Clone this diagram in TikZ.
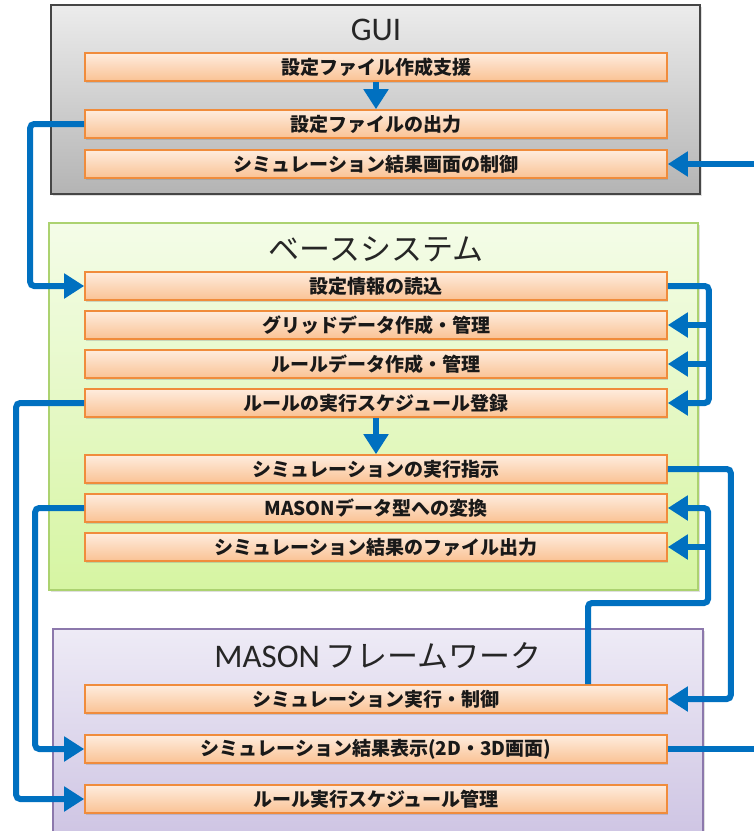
\documentclass[tikz,border=0pt]{standalone}
\usepackage{fontspec}
\setmainfont{Carlito}
\newfontfamily\jpfont{Noto Sans CJK JP}
\usetikzlibrary{arrows.meta, positioning, calc, shadows}
\definecolor{flowblue}{RGB}{0,112,192}
\definecolor{bartop}{RGB}{254,236,222}
\definecolor{barbot}{RGB}{250,194,148}
\definecolor{barline}{RGB}{240,140,60}
\definecolor{guitop}{RGB}{236,236,236}
\definecolor{guibot}{RGB}{180,180,180}
\definecolor{guiline}{RGB}{70,70,70}
\definecolor{basetop}{RGB}{244,252,232}
\definecolor{basebot}{RGB}{214,245,162}
\definecolor{baseline}{RGB}{172,210,112}
\definecolor{masontop}{RGB}{238,235,246}
\definecolor{masonbot}{RGB}{204,194,226}
\definecolor{masonline}{RGB}{140,120,172}

\begin{document}
\begin{tikzpicture}[x=0.5pt, y=-0.5pt,
  bar/.style={draw=barline, line width=0.8pt, top color=bartop, bottom color=barbot,
    minimum width=291pt, minimum height=14pt, inner sep=0pt, text=black!90,
    font=\jpfont\bfseries\fontsize{9.5}{10}\selectfont,
    drop shadow={shadow xshift=0.6pt, shadow yshift=-0.8pt, opacity=0.3}},
  panel/.style={line width=0.6pt, drop shadow={shadow xshift=0.8pt, shadow yshift=-0.8pt, opacity=0.25}},
  title/.style={text=black!85, font=\fontsize{16.5}{18}\selectfont},
  flow/.style={flowblue, line width=3pt, rounded corners=2pt, -{Triangle[length=10pt, width=12pt]}},
  link/.style={flowblue, line width=3pt}]
  \useasboundingbox (0,0) rectangle (754,831);

  % panels
  \draw[panel, draw=guiline, top color=guitop, bottom color=guibot] (51,5) rectangle (700,194);
  \draw[panel, draw=baseline, top color=basetop, bottom color=basebot] (49,223) rectangle (698,590);
  \draw[panel, draw=masonline, top color=masontop, bottom color=masonbot] (53,629) rectangle (703,850);

  \node[title] (guititle) at (376,30) {GUI};
  \node[title, font=\jpfont\fontsize{15.5}{18}\selectfont] (basetitle) at (376,249) {ベースシステム};
  \node[title] (masontitle) at (378,656) {MASON\,{\jpfont\fontsize{15.5}{18}\selectfont フレームワーク}};

  % GUI
  \node[bar] (b1) at (376,67) {設定ファイル作成支援};
  \node[bar] (b2) at (376,124) {設定ファイルの出力};
  \node[bar] (b3) at (376,164) {シミュレーション結果画面の制御};

  % base system
  \node[bar] (c1) at (376,286) {設定情報の読込};
  \node[bar] (c2) at (376,325) {グリッドデータ作成・管理};
  \node[bar] (c3) at (376,364) {ルールデータ作成・管理};
  \node[bar] (c4) at (376,403) {ルールの実行スケジュール登録};
  \node[bar] (c5) at (376,469) {シミュレーションの実行指示};
  \node[bar] (c6) at (376,508) {MASONデータ型への変換};
  \node[bar] (c7) at (376,547) {シミュレーション結果のファイル出力};

  % MASON
  \node[bar] (d1) at (376,699) {シミュレーション実行・制御};
  \node[bar] (d2) at (376,749) {シミュレーション結果表示(2D・3D画面)};
  \node[bar] (d3) at (376,799) {ルール実行スケジュール管理};

  % connectors
  \draw[flow] (b1.south) -- (b2.north);
  \draw[flow] (b2.west) -- ++(-54,0) |- (c1.west);
  \coordinate (readjoin) at ($(c1.east)+(41,0)$);
  \draw[flow] (c1.east) -- (readjoin) |- (c4.east);
  \foreach \n in {c2,c3} { \draw[flow] (readjoin |- \n.east) -- (\n.east); }
  \draw[flow] (c4.south) -- (c5.north);
  \draw[flow] (c4.west) -- ++(-68,0) |- (d3.west);
  \draw[flow] (c5.east) -- ++(63,0) |- (d1.east);
  \draw[flow] (c6.west) -- ++(-49,0) |- (d2.west);
  \coordinate (ctrlup) at ($(d1.north)+(212,0)$);
  \coordinate (ctrljoin) at (708,603);
  \draw[flow] (ctrlup) |- (ctrljoin) |- (c6.east);
  \draw[flow] (ctrljoin |- c7.east) -- (c7.east);
  \coordinate (guiin) at (754,164);
  \draw[flow] (guiin) -- (b3.east);
  \coordinate (dispout) at (754,749);
  \draw[link] (d2.east) -- (dispout);
\end{tikzpicture}
\end{document}
